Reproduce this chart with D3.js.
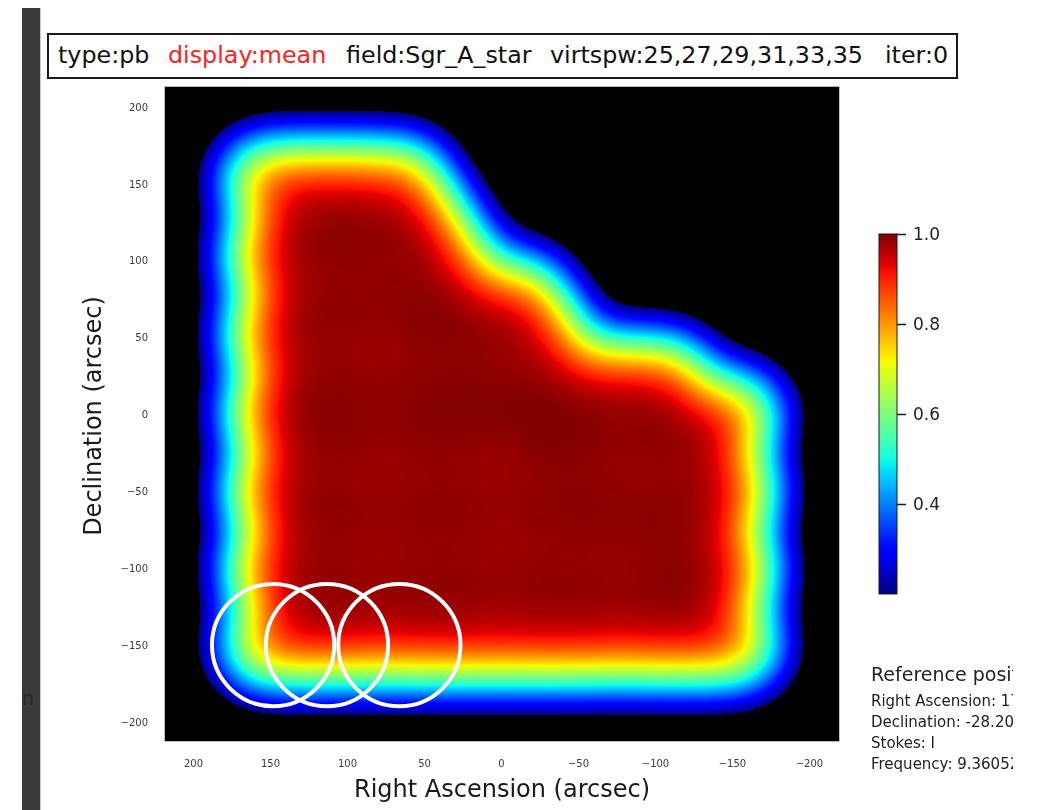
<!DOCTYPE html>
<html><head><meta charset="utf-8">
<script src="https://cdn.jsdelivr.net/npm/d3@7"></script>
<style>
body{margin:0;background:#fff;font-family:"DejaVu Sans",sans-serif;}
#wrap{position:relative;width:1039px;height:810px;overflow:hidden;background:#fff;}
#wrap canvas,#wrap svg{position:absolute;left:0;top:0;}
</style></head><body><div id="wrap"></div>
<script>
// Axis ticks (arcsec offsets from the reference position)
const raTicks = [200, 150, 100, 50, 0, -50, -100, -150, -200];
const decTicks = [200, 150, 100, 50, 0, -50, -100, -150, -200];
const pbTicks = [0.4, 0.6, 0.8, 1.0];

// Mosaic pointing centres, one row per declination offset (arcsec)
const pointingDec = [154, 128, 103, 77, 52, 26, 1, -24, -50, -75, -101, -126, -152];
const pointingRA = [
  [156, 125, 94, 62],
  [140, 109, 78, 47],
  [156, 125, 94, 62, 31],
  [140, 109, 78, 47, 16, -16],
  [156, 125, 94, 62, 31, 0, -31],
  [140, 109, 78, 47, 16, -16, -47, -78, -109],
  [156, 125, 94, 62, 31, 0, -31, -62, -94, -125, -156],
  [140, 109, 78, 47, 16, -16, -47, -78, -109, -140],
  [156, 125, 94, 62, 31, 0, -31, -62, -94, -125, -156],
  [140, 109, 78, 47, 16, -16, -47, -78, -109, -140],
  [156, 125, 94, 62, 31, 0, -31, -62, -94, -125, -156],
  [140, 109, 78, 47, 16, -16, -47, -78, -109, -140],
  [156, 125, 94, 62, 31, 0, -31, -62, -94, -125, -156]
];
// Repeated fields along the diagonal strip (lower weight)
const repeatRA = [90, 65, 40, 15, -10, -35, -60, -85, -110];
const repeatDec = [115, 88, 61, 34, 7, -20, -46, -73, -100];
const repeatWeight = 0.03;

const beamFWHM = 64;          // arcsec
const pbLimit = 0.2;
const pbRange = [0.2, 1.0];

// Highlighted fields
const fieldRA = [148, 113, 66];
const fieldDec = [-150, -150, -150];
const fieldRadius = 39.7;     // arcsec

// Title segments
const titleParts = ["type:pb", "display:mean", "field:Sgr_A_star", "virtspw:25,27,29,31,33,35", "iter:0"];
const titleColors = ["#111", "#ff2222", "#111", "#111", "#111"];
const titleX = [58, 168, 346, 550, 885];

// Reference position panel
const refTitle = "Reference position";
const refLines = ["Right Ascension: 17:46:11.000", "Declination: -28.20.00.000", "Stokes: I", "Frequency: 9.36052e+10Hz"];

// jet colormap segments
const jetRed = [[0, 0], [0.35, 0], [0.66, 1], [0.89, 1], [1, 0.5]];
const jetGreen = [[0, 0], [0.125, 0], [0.375, 1], [0.64, 1], [0.91, 0], [1, 0]];
const jetBlue = [[0, 0.5], [0.11, 1], [0.34, 1], [0.65, 0], [1, 0]];

const W = 1039, H = 810;
const plot = {left: 165, top: 87, right: 839, bottom: 741};
const pw = plot.right - plot.left, ph = plot.bottom - plot.top;

const x = d3.scaleLinear().domain([218.2, -219.5]).range([plot.left, plot.right]);
const y = d3.scaleLinear().domain([213.0, -212.4]).range([plot.top, plot.bottom]);

const seg = s => d3.scaleLinear().domain(s.map(d => d[0])).range(s.map(d => d[1])).clamp(true);
const rC = seg(jetRed), gC = seg(jetGreen), bC = seg(jetBlue);
const norm = d3.scaleLinear().domain(pbRange).range([0, 1]).clamp(true);
const jet = v => { const t = norm(v); return [rC(t) * 255, gC(t) * 255, bC(t) * 255]; };

const wrap = d3.select("#wrap");

// ---- primary beam image ----
const canvas = wrap.append("canvas").attr("width", pw).attr("height", ph)
  .style("left", plot.left + "px").style("top", plot.top + "px");
const ctx = canvas.node().getContext("2d");

const pts = [];
pointingDec.forEach((d, i) => pointingRA[i].forEach(r => pts.push([r, d, 1])));
repeatRA.forEach((r, i) => pts.push([r, repeatDec[i], repeatWeight]));
const k = 8 * Math.LN2 / (beamFWHM * beamFWHM);   // squared beam response
const colRA = d3.range(pw).map(i => x.invert(plot.left + i + 0.5));
const rowDec = d3.range(ph).map(j => y.invert(plot.top + j + 0.5));
const ex = pts.map(p => Float32Array.from(colRA, r => Math.exp(-k * (r - p[0]) ** 2)));
const ey = pts.map(p => Float32Array.from(rowDec, d => p[2] * Math.exp(-k * (d - p[1]) ** 2)));
const vals = new Float32Array(pw * ph);
let vmax = 0;
for (let j = 0; j < ph; j++) {
  for (let n = 0; n < pts.length; n++) {
    const fy = ey[n][j];
    if (fy < 1e-7) continue;
    const e = ex[n];
    const o = j * pw;
    for (let i = 0; i < pw; i++) vals[o + i] += e[i] * fy;
  }
}
for (let q = 0; q < vals.length; q++) { vals[q] = Math.sqrt(vals[q]); if (vals[q] > vmax) vmax = vals[q]; }
const img = ctx.createImageData(pw, ph);
for (let q = 0; q < vals.length; q++) {
  const v = vals[q] / vmax;
  const o = q * 4;
  if (v >= pbLimit) { const c = jet(v); img.data[o] = c[0]; img.data[o + 1] = c[1]; img.data[o + 2] = c[2]; }
  img.data[o + 3] = 255;
}
ctx.putImageData(img, 0, 0);

// ---- vector overlay ----
const svg = wrap.append("svg").attr("width", W).attr("height", H);

// side panel strip
svg.append("rect").attr("x", 22).attr("y", 8).attr("width", 18).attr("height", H - 8).attr("fill", "#3a3a3a");
svg.append("line").attr("x1", 40.5).attr("x2", 40.5).attr("y1", 8).attr("y2", H).attr("stroke", "#c8c8c8");
svg.append("text").attr("x", 22).attr("y", 705).attr("font-size", 19).attr("fill", "#262626").text("n");

// frame
svg.append("rect").attr("x", plot.left - 0.5).attr("y", plot.top - 0.5).attr("width", pw + 1).attr("height", ph + 1)
  .attr("fill", "none").attr("stroke", "#bdbdbd");

// highlighted fields
svg.append("g").selectAll("circle").data(fieldRA).join("circle")
  .attr("cx", d => x(d)).attr("cy", (d, i) => y(fieldDec[i]))
  .attr("r", x(0) - x(fieldRadius))
  .attr("fill", "none").attr("stroke", "#fff").attr("stroke-width", 4);

// axes
const fmt = d => d < 0 ? "\u2212" + Math.abs(d) : String(d);
const xa = svg.append("g").attr("transform", `translate(0,${plot.bottom})`)
  .call(d3.axisBottom(x).tickValues(raTicks).tickFormat(fmt).tickSize(0).tickPadding(19));
const ya = svg.append("g").attr("transform", `translate(${plot.left},0)`)
  .call(d3.axisLeft(y).tickValues(decTicks).tickFormat(fmt).tickSize(0).tickPadding(17));
[xa, ya].forEach(a => {
  a.select(".domain").remove();
  a.selectAll("text").attr("font-family", "DejaVu Sans").attr("font-size", 10).attr("fill", "#3c3c3c");
});

svg.append("text").attr("x", 502).attr("y", 797).attr("text-anchor", "middle")
  .attr("font-size", 24).attr("fill", "#1a1a1a").text("Right Ascension (arcsec)");
svg.append("text").attr("transform", "translate(101,416) rotate(-90)").attr("text-anchor", "middle")
  .attr("font-size", 24).attr("fill", "#1a1a1a").text("Declination (arcsec)");

// title box
svg.append("rect").attr("x", 48).attr("y", 34).attr("width", 909).attr("height", 44)
  .attr("fill", "#fff").attr("stroke", "#1a1a1a").attr("stroke-width", 2);
svg.append("g").selectAll("text").data(titleParts).join("text")
  .attr("x", (d, i) => titleX[i]).attr("y", 63).attr("font-size", 23.8)
  .attr("fill", (d, i) => titleColors[i]).text(d => d);

// colorbar
const cb = {x: 879, w: 18};
const cy = d3.scaleLinear().domain(pbRange).range([594, 234]);
const grad = svg.append("defs").append("linearGradient").attr("id", "jetgrad")
  .attr("x1", 0).attr("y1", 1).attr("x2", 0).attr("y2", 0);
grad.selectAll("stop").data(d3.range(0, 1.0001, 0.02)).join("stop")
  .attr("offset", d => d)
  .attr("stop-color", d => { const c = jet(pbRange[0] + d * (pbRange[1] - pbRange[0])); return d3.rgb(c[0], c[1], c[2]).formatHex(); });
svg.append("rect").attr("x", cb.x).attr("y", cy(pbRange[1])).attr("width", cb.w)
  .attr("height", cy(pbRange[0]) - cy(pbRange[1])).attr("fill", "url(#jetgrad)")
  .attr("stroke", "#1a1a1a").attr("stroke-width", 1);
const ca = svg.append("g").attr("transform", `translate(${cb.x + cb.w},0)`)
  .call(d3.axisRight(cy).tickValues(pbTicks).tickFormat(d3.format(".1f")).tickSize(9).tickPadding(7));
ca.select(".domain").remove();
ca.selectAll("line").attr("stroke", "#1a1a1a").attr("stroke-width", 1.5);
ca.selectAll("text").attr("font-family", "DejaVu Sans").attr("font-size", 17).attr("fill", "#222");

// reference position panel
const clip = svg.append("clipPath").attr("id", "refclip");
clip.append("rect").attr("x", 860).attr("y", 640).attr("width", 153).attr("height", 150);
const ref = svg.append("g").attr("clip-path", "url(#refclip)");
ref.append("text").attr("x", 871).attr("y", 681).attr("font-size", 19).attr("fill", "#222").text(refTitle);
ref.selectAll("text.l").data(refLines).join("text").attr("class", "l")
  .attr("x", 871).attr("y", (d, i) => 706 + i * 21).attr("font-size", 15).attr("fill", "#222").text(d => d);
</script>
</body></html>
